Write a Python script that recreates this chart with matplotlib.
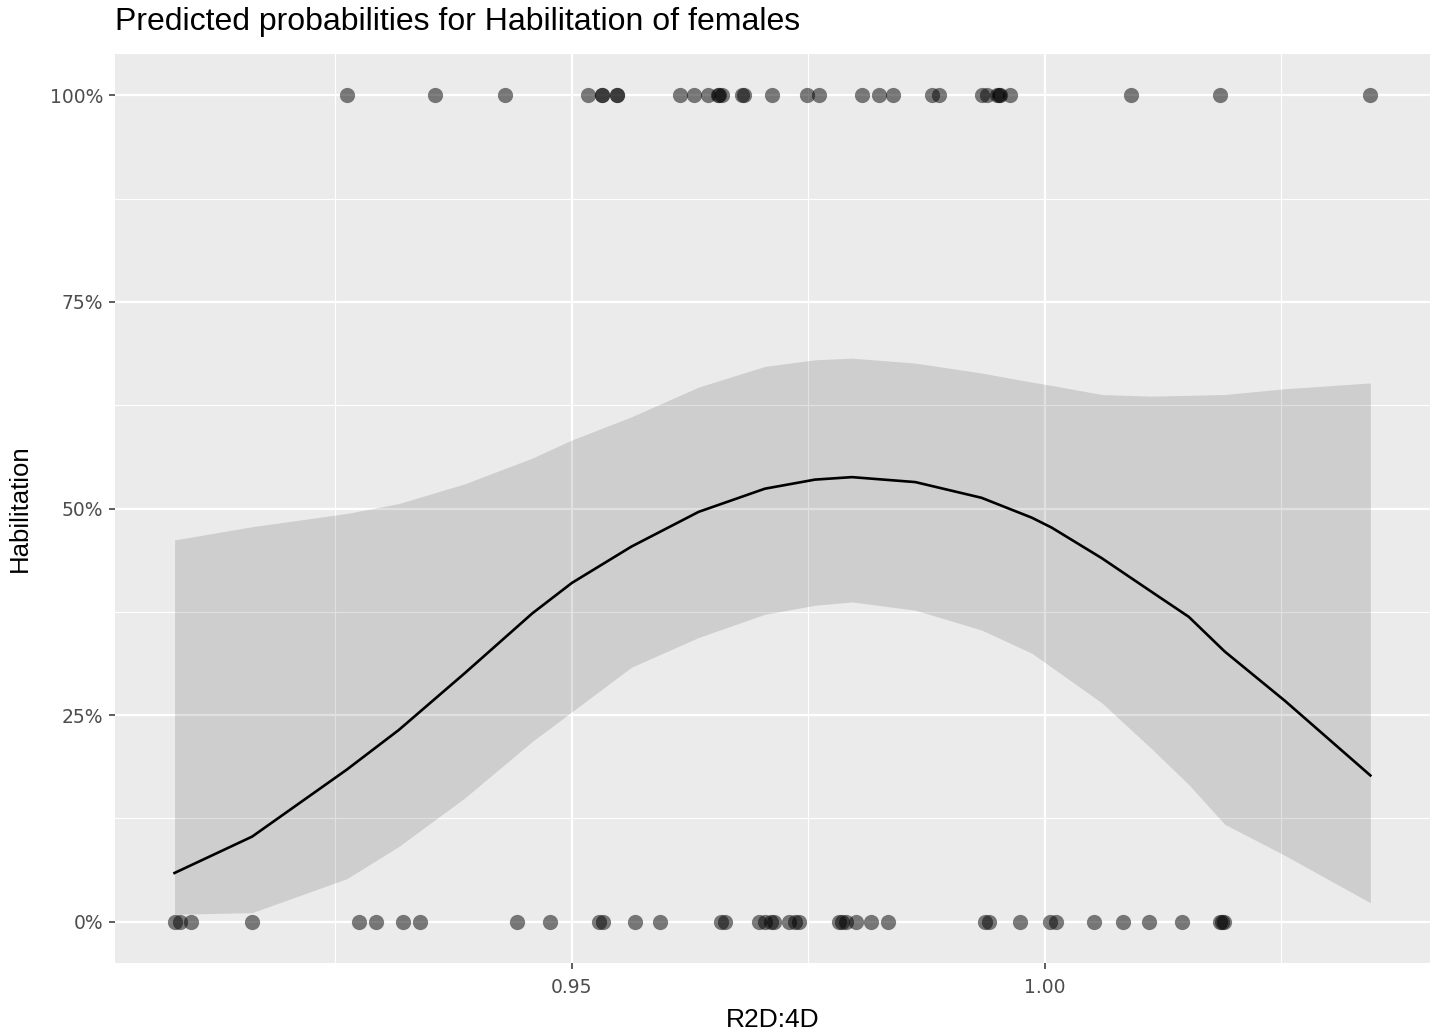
import matplotlib.pyplot as plt
from matplotlib.ticker import FixedLocator, PercentFormatter

# predicted probabilities
pred_x = [0.9080, 0.9162, 0.9262, 0.9317, 0.9387, 0.9458, 0.9500, 0.9563,
          0.9634, 0.9704, 0.9757, 0.9796, 0.9863, 0.9933, 0.9986, 1.0007,
          1.0060, 1.0113, 1.0152, 1.0190, 1.0254, 1.0344]
pred_fit = [0.059, 0.103, 0.184, 0.232, 0.301, 0.373, 0.410, 0.454,
            0.496, 0.524, 0.535, 0.538, 0.532, 0.513, 0.489, 0.477,
            0.440, 0.399, 0.369, 0.327, 0.267, 0.177]
pred_low = [0.009, 0.011, 0.052, 0.091, 0.150, 0.218, 0.254, 0.308,
            0.344, 0.372, 0.383, 0.387, 0.377, 0.353, 0.325, 0.308,
            0.265, 0.209, 0.166, 0.118, 0.080, 0.023]
pred_high = [0.462, 0.478, 0.494, 0.506, 0.530, 0.561, 0.583, 0.611,
             0.647, 0.672, 0.680, 0.682, 0.676, 0.664, 0.653, 0.649,
             0.638, 0.636, 0.637, 0.638, 0.645, 0.652]

# observed data: habilitation yes (1) / no (0)
obs_yes = [0.9262, 0.9355, 0.9429, 0.9517, 0.9532, 0.9532, 0.9548, 0.9548,
           0.9614, 0.9629, 0.9644, 0.9654, 0.9656, 0.9659, 0.9680, 0.9682,
           0.9711, 0.9749, 0.9761, 0.9807, 0.9825, 0.9839, 0.9881, 0.9888,
           0.9933, 0.9939, 0.9949, 0.9951, 0.9953, 0.9963, 1.0091, 1.0185,
           1.0344]
obs_no = [0.9080, 0.9086, 0.9097, 0.9162, 0.9275, 0.9293, 0.9321, 0.9339,
          0.9442, 0.9477, 0.9529, 0.9533, 0.9567, 0.9593, 0.9658, 0.9662,
          0.9698, 0.9704, 0.9710, 0.9714, 0.9729, 0.9736, 0.9740, 0.9782,
          0.9785, 0.9790, 0.9800, 0.9816, 0.9834, 0.9937, 0.9941, 0.9974,
          1.0005, 1.0012, 1.0052, 1.0082, 1.0110, 1.0145, 1.0185, 1.0187,
          1.0189]

title = "Predicted probabilities for Habilitation of females"
x_label = "R2D:4D"
y_label = "Habilitation"

fig = plt.figure(figsize=(14.35, 10.29), dpi=100)
ax = fig.add_axes([0.0801, 0.0641, 0.9164, 0.8834])
ax.set_facecolor("#ebebeb")
for s in ax.spines.values():
    s.set_visible(False)

ax.set_xlim(0.9017, 1.0407)
ax.set_ylim(-0.05, 1.05)

ax.xaxis.set_major_locator(FixedLocator([0.95, 1.00]))
ax.xaxis.set_minor_locator(FixedLocator([0.925, 0.975, 1.025]))
ax.yaxis.set_major_locator(FixedLocator([0, 0.25, 0.5, 0.75, 1.0]))
ax.yaxis.set_minor_locator(FixedLocator([0.125, 0.375, 0.625, 0.875]))
ax.yaxis.set_major_formatter(PercentFormatter(1.0, decimals=0))
ax.set_xticklabels(["0.95", "1.00"])

ax.grid(which="major", color="white", linewidth=1.6)
ax.grid(which="minor", color="white", linewidth=0.8)
ax.set_axisbelow(True)
ax.tick_params(which="major", length=4.5, width=1.1, color="#333333",
               labelcolor="#4d4d4d", labelsize=13.5, pad=4)
ax.tick_params(axis="x", which="major", pad=6)
ax.tick_params(which="minor", length=0)

ax.fill_between(pred_x, pred_low, pred_high, color="black", alpha=0.12,
                linewidth=0)
ax.plot(pred_x, pred_fit, color="black", linewidth=1.9)

ax.scatter(obs_yes, [1.0] * len(obs_yes), s=120, color="black", alpha=0.5,
           linewidths=0)
ax.scatter(obs_no, [0.0] * len(obs_no), s=120, color="black", alpha=0.5,
           linewidths=0)

ax.set_xlabel(x_label, family="Liberation Sans", fontsize=19, labelpad=8)
ax.set_ylabel(y_label, family="Liberation Sans", fontsize=18.5, labelpad=13)
fig.text(0.0801, 0.979, title, family="Liberation Sans", fontsize=23,
         va="center", ha="left")

fig.savefig("out.png", dpi=100)
